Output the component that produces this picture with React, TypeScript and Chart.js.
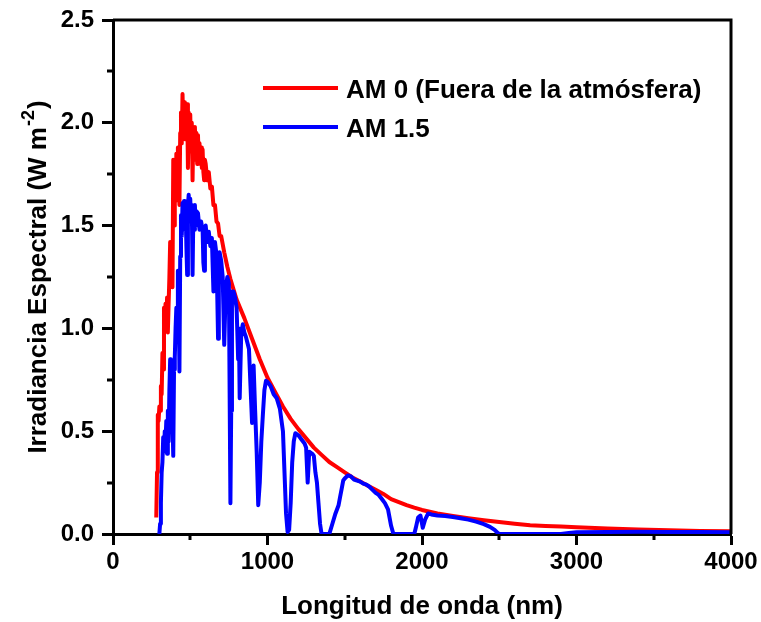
import React, { useEffect, useRef } from "react";
import { Chart, registerables } from "chart.js";

Chart.register(...registerables);

// AM 0 (outside the atmosphere)
const wavelengthAM0 = [
  280, 285, 290, 295, 300, 305, 310, 315, 320, 325, 330, 335, 340, 345, 350, 355, 360, 365, 370, 375,
  380, 385, 390, 395, 400, 405, 410, 415, 420, 425, 430, 435, 440, 445, 450, 455, 460, 465, 470, 475,
  480, 485, 490, 495, 500, 505, 510, 515, 520, 525, 530, 535, 540, 545, 550, 555, 560, 565, 570, 575,
  580, 585, 590, 595, 600, 610, 620, 630, 640, 650, 660, 670, 680, 690, 700, 720, 740, 760, 780, 800,
  850, 900, 950, 1000, 1050, 1100, 1150, 1200, 1250, 1300, 1350, 1400, 1450, 1500, 1550, 1600, 1650, 1700, 1750, 1800,
  1850, 1900, 1950, 2000, 2100, 2200, 2300, 2400, 2500, 2600, 2700, 2800, 2900, 3000, 3200, 3400, 3600, 3800, 4000,
];
const irradianceAM0 = [
  0.08, 0.30, 0.58, 0.55, 0.62, 0.60, 0.72, 0.68, 0.88, 0.80, 1.10, 1.05, 1.12, 1.02, 1.15, 0.98, 1.12, 1.25, 1.42, 1.30,
  1.40, 1.20, 1.82, 1.50, 1.78, 1.62, 1.85, 1.75, 1.88, 1.72, 1.60, 1.95, 2.05, 1.90, 2.14, 1.98, 2.10, 1.92, 2.07, 1.95,
  2.09, 1.78, 2.05, 1.90, 2.04, 1.86, 2.00, 1.72, 1.97, 1.82, 1.98, 1.85, 1.95, 1.80, 1.94, 1.82, 1.90, 1.80, 1.88, 1.78,
  1.87, 1.76, 1.72, 1.82, 1.80, 1.72, 1.76, 1.68, 1.69, 1.60, 1.60, 1.52, 1.51, 1.45, 1.45, 1.37, 1.30, 1.24, 1.19, 1.14,
  1.05, 0.95, 0.85, 0.76, 0.69, 0.62, 0.56, 0.51, 0.465, 0.42, 0.385, 0.35, 0.325, 0.30, 0.275, 0.255, 0.235, 0.215, 0.195, 0.17,
  0.155, 0.14, 0.128, 0.117, 0.10, 0.088, 0.077, 0.067, 0.058, 0.05, 0.043, 0.039, 0.036, 0.033, 0.027, 0.022, 0.018, 0.015, 0.013,
];

// AM 1.5
const wavelengthAM15 = [
  300, 305, 310, 315, 320, 325, 330, 335, 340, 345, 350, 355, 360, 365, 370, 375, 380, 385, 390, 395,
  400, 405, 410, 415, 420, 425, 430, 435, 440, 445, 450, 455, 460, 465, 470, 475, 480, 485, 490, 495,
  500, 505, 510, 515, 520, 525, 530, 535, 540, 550, 560, 570, 580, 585, 590, 595, 600, 610, 620, 630,
  640, 650, 655, 660, 670, 680, 685, 690, 700, 710, 720, 730, 740, 750, 760, 765, 770, 780, 790, 800,
  810, 815, 820, 830, 840, 850, 860, 870, 880, 890, 900, 910, 920, 930, 940, 950, 960, 970, 980, 990,
  1000, 1020, 1040, 1060, 1080, 1100, 1110, 1120, 1130, 1140, 1150, 1160, 1170, 1180, 1200, 1220, 1240, 1250, 1260, 1270,
  1290, 1300, 1310, 1320, 1330, 1340, 1350, 1400, 1420, 1440, 1460, 1470, 1480, 1490, 1500, 1520, 1540, 1560, 1580, 1600,
  1620, 1640, 1660, 1680, 1700, 1720, 1740, 1760, 1780, 1790, 1800, 1815, 1950, 1960, 1975, 1990, 2005, 2020, 2040, 2060,
  2100, 2150, 2200, 2250, 2300, 2350, 2400, 2440, 2470, 2490, 2500, 2900, 2950, 3000, 3200, 3400, 3600, 3800, 4000,
];
const irradianceAM15 = [
  0.00, 0.05, 0.15, 0.30, 0.35, 0.47, 0.40, 0.50, 0.45, 0.55, 0.39, 0.60, 0.45, 0.70, 0.85, 0.62, 0.75, 0.55, 0.38, 0.80,
  0.86, 1.00, 1.10, 1.05, 1.28, 1.20, 0.79, 1.35, 1.55, 1.45, 1.61, 1.52, 1.62, 1.48, 1.60, 1.40, 1.26, 1.60, 1.65, 1.55,
  1.63, 1.52, 1.60, 1.26, 1.55, 1.48, 1.60, 1.50, 1.57, 1.56, 1.48, 1.52, 1.48, 1.32, 1.28, 1.45, 1.50, 1.42, 1.47, 1.40,
  1.44, 1.18, 1.40, 1.42, 1.36, 0.95, 1.36, 1.37, 1.33, 1.25, 0.92, 1.20, 1.25, 1.22, 0.15, 0.60, 1.18, 1.18, 1.15, 1.10,
  0.85, 1.00, 0.66, 0.98, 1.02, 0.98, 0.96, 0.93, 0.90, 0.72, 0.54, 0.82, 0.60, 0.40, 0.14, 0.25, 0.45, 0.58, 0.70, 0.745,
  0.74, 0.72, 0.68, 0.66, 0.61, 0.50, 0.30, 0.10, 0.01, 0.02, 0.15, 0.35, 0.45, 0.49, 0.48, 0.46, 0.44, 0.42, 0.25, 0.40,
  0.39, 0.38, 0.30, 0.25, 0.15, 0.05, 0.00, 0.00, 0.05, 0.10, 0.14, 0.18, 0.22, 0.26, 0.27, 0.285, 0.28, 0.265, 0.26, 0.255,
  0.245, 0.24, 0.23, 0.215, 0.20, 0.19, 0.17, 0.15, 0.12, 0.08, 0.04, 0.00, 0.00, 0.03, 0.08, 0.09, 0.03, 0.07, 0.10, 0.095,
  0.09, 0.088, 0.083, 0.077, 0.07, 0.06, 0.048, 0.035, 0.02, 0.005, 0.00, 0.00, 0.005, 0.008, 0.01, 0.011, 0.01, 0.01, 0.009,
];

const seriesLabels = ["AM 0 (Fuera de la atmósfera)", "AM 1.5"];
const seriesColors = ["#ff0000", "#0000ff"];
const xTitle = "Longitud de onda (nm)";
const yTitleMain = "Irradiancia Espectral (W m";
const yTitleSup = "-2";
const yTitleEnd = ")";
const yMinorTicks = [0.25, 0.75, 1.25, 1.75, 2.25];
const xMinorTicks = [500, 1500, 2500, 3500];

const FONT = "'Liberation Sans', Arial, sans-serif";

const decorPlugin = {
  id: "decor",
  afterDraw(chart: any) {
    const { ctx, chartArea } = chart;
    const xs = chart.scales.x;
    const ys = chart.scales.y;
    ctx.save();
    // frame top & right
    ctx.strokeStyle = "#000";
    ctx.lineWidth = 3;
    ctx.beginPath();
    ctx.moveTo(chartArea.left, chartArea.top);
    ctx.lineTo(chartArea.right, chartArea.top);
    ctx.lineTo(chartArea.right, chartArea.bottom);
    ctx.stroke();
    // minor ticks
    ctx.beginPath();
    yMinorTicks.forEach((v) => {
      const py = Math.round(ys.getPixelForValue(v));
      ctx.moveTo(chartArea.left, py);
      ctx.lineTo(chartArea.left - 6, py);
    });
    xMinorTicks.forEach((v) => {
      const px = Math.round(xs.getPixelForValue(v));
      ctx.moveTo(px, chartArea.bottom);
      ctx.lineTo(px, chartArea.bottom + 6);
    });
    ctx.stroke();

    // legend
    const legendX0 = 263;
    const legendX1 = 338;
    const legendYs = [88, 127];
    ctx.lineWidth = 4;
    ctx.font = `bold 26px ${FONT}`;
    ctx.textBaseline = "middle";
    ctx.textAlign = "left";
    seriesLabels.forEach((label, i) => {
      ctx.strokeStyle = seriesColors[i];
      ctx.beginPath();
      ctx.moveTo(legendX0, legendYs[i]);
      ctx.lineTo(legendX1, legendYs[i]);
      ctx.stroke();
      ctx.fillStyle = "#000";
      ctx.fillText(label, 346, legendYs[i] + 3);
    });

    // x title
    ctx.font = `bold 26px ${FONT}`;
    ctx.textAlign = "center";
    ctx.textBaseline = "middle";
    ctx.fillText(xTitle, (chartArea.left + chartArea.right) / 2, 607);

    // y title with superscript
    const mainFont = `bold 26px ${FONT}`;
    const supFont = `bold 18px ${FONT}`;
    ctx.font = mainFont;
    const w1 = ctx.measureText(yTitleMain).width;
    const w3 = ctx.measureText(yTitleEnd).width;
    ctx.font = supFont;
    const w2 = ctx.measureText(yTitleSup).width;
    const total = w1 + w2 + w3 + 2;
    ctx.translate(37, (chartArea.top + chartArea.bottom) / 2);
    ctx.rotate(-Math.PI / 2);
    ctx.textAlign = "left";
    ctx.textBaseline = "alphabetic";
    let cx = -total / 2;
    ctx.font = mainFont;
    ctx.fillText(yTitleMain, cx, 9);
    cx += w1 + 1;
    ctx.font = supFont;
    ctx.fillText(yTitleSup, cx, -3);
    cx += w2 + 1;
    ctx.font = mainFont;
    ctx.fillText(yTitleEnd, cx, 9);
    ctx.restore();
  },
};

export default function App() {
  const canvasRef = useRef<HTMLCanvasElement | null>(null);

  useEffect(() => {
    const canvas = canvasRef.current;
    if (!canvas) return;
    const am0 = wavelengthAM0.map((x, i) => ({ x, y: irradianceAM0[i] }));
    const am15 = wavelengthAM15.map((x, i) => ({ x, y: irradianceAM15[i] }));
    const chart = new Chart(canvas, {
      type: "line",
      data: {
        datasets: [
          {
            label: seriesLabels[0],
            data: am0,
            borderColor: seriesColors[0],
            backgroundColor: seriesColors[0],
            borderWidth: 4,
            pointRadius: 0,
            tension: 0,
            borderJoinStyle: "round",
            order: 2,
          },
          {
            label: seriesLabels[1],
            data: am15,
            borderColor: seriesColors[1],
            backgroundColor: seriesColors[1],
            borderWidth: 4,
            pointRadius: 0,
            tension: 0,
            borderJoinStyle: "round",
            order: 1,
          },
        ],
      },
      options: {
        responsive: false,
        animation: false,
        layout: { padding: { left: 0, top: 18, right: 30, bottom: 0 } },
        plugins: {
          legend: { display: false },
          tooltip: { enabled: false },
          title: { display: false },
        },
        scales: {
          x: {
            type: "linear",
            min: 0,
            max: 4000,
            afterFit: (scale: any) => {
              scale.height = 88;
            },
            ticks: {
              stepSize: 1000,
              color: "#000",
              padding: 3,
              font: { family: FONT, size: 24, weight: "bold" },
              maxRotation: 0,
              callback: (v: any) => String(v),
            },
            grid: {
              drawOnChartArea: false,
              drawTicks: true,
              tickLength: 11,
              tickWidth: 3,
              tickColor: "#000",
            },
            border: { display: true, color: "#000", width: 3 },
          },
          y: {
            type: "linear",
            min: 0,
            max: 2.5,
            afterFit: (scale: any) => {
              scale.width = 113;
            },
            ticks: {
              stepSize: 0.5,
              color: "#000",
              padding: 8,
              font: { family: FONT, size: 24, weight: "bold", lineHeight: 1 },
              callback: (v: any) => Number(v).toFixed(1),
            },
            grid: {
              drawOnChartArea: false,
              drawTicks: true,
              tickLength: 11,
              tickWidth: 3,
              tickColor: "#000",
            },
            border: { display: true, color: "#000", width: 3 },
          },
        },
      },
      plugins: [decorPlugin],
    });
    return () => chart.destroy();
  }, []);

  return (
    <div style={{ position: "fixed", left: 0, top: 0, width: 761, height: 622, background: "#fff" }}>
      <canvas ref={canvasRef} width={761} height={622} style={{ display: "block" }} />
    </div>
  );
}
